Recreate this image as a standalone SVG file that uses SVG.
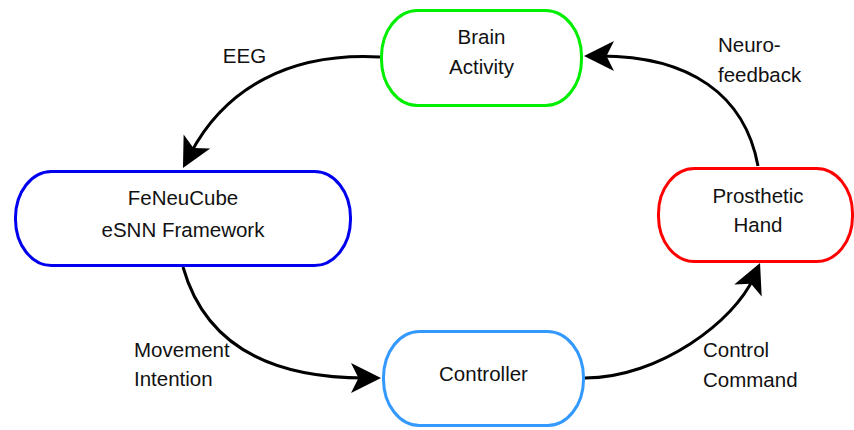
<svg xmlns="http://www.w3.org/2000/svg" width="854" height="430" viewBox="0 0 854 430">
  <style>
    .node { fill: #ffffff; stroke-width: 3; }
    .label { font-family: "Liberation Sans", Arial, Helvetica, sans-serif; font-size: 20.5px; fill: #111111; }
    .mid { text-anchor: middle; }
    .edge { fill: none; stroke: #000000; stroke-width: 3; marker-end: url(#arrow); }
  </style>
  <defs>
    <!-- notched "classic" arrowhead; tip sits 16px beyond the path end -->
    <marker id="arrow" markerUnits="userSpaceOnUse" orient="auto" viewBox="-15 -16 32 32" markerWidth="32" markerHeight="32" refX="0" refY="0" overflow="visible">
      <path d="M16,0 L-14,-15 L-6.5,0 L-14,15 Z" fill="#000000"/>
    </marker>
  </defs>

  <rect width="854" height="430" fill="#ffffff"/>

  <g id="connectors">
    <path class="edge" d="M380,57 C290,52 225,88 190.4,153.8"/>
    <path class="edge" d="M183,267 C205,345 270,378 365,378"/>
    <path class="edge" d="M585,378 C660,378 735,320 753.6,277.7"/>
    <path class="edge" d="M758,166 C745,95 690,56 600,56"/>
    <text class="label mid" x="244.5" y="63">EEG</text>
    <text class="label" x="134" y="356.7">Movement</text>
    <text class="label" x="134" y="385.5">Intention</text>
    <text class="label" x="703" y="356.7">Control</text>
    <text class="label" x="703" y="386.5">Command</text>
    <text class="label" x="718" y="51.7">Neuro-</text>
    <text class="label" x="718" y="81.7">feedback</text>
  </g>

  <g id="brain-activity">
    <rect class="node" x="381.5" y="10.5" width="200" height="95" rx="36" ry="46" stroke="#00ee00"/>
    <text class="label mid" x="481.5" y="44.3">Brain</text>
    <text class="label mid" x="481.5" y="74">Activity</text>
  </g>

  <g id="feneucube">
    <rect class="node" x="15.5" y="171.5" width="335" height="94" rx="36" ry="46" stroke="#0000ee"/>
    <text class="label mid" x="183" y="205">FeNeuCube</text>
    <text class="label mid" x="183" y="236.5">eSNN Framework</text>
  </g>

  <g id="prosthetic-hand">
    <rect class="node" x="658.5" y="168.5" width="194" height="93" rx="36" ry="45" stroke="#ff0000"/>
    <text class="label mid" x="758" y="202.7">Prosthetic</text>
    <text class="label mid" x="758" y="232">Hand</text>
  </g>

  <g id="controller">
    <rect class="node" x="383.5" y="331.5" width="200" height="94" rx="36" ry="46" stroke="#3399ff"/>
    <text class="label mid" x="483.5" y="381">Controller</text>
  </g>
</svg>
